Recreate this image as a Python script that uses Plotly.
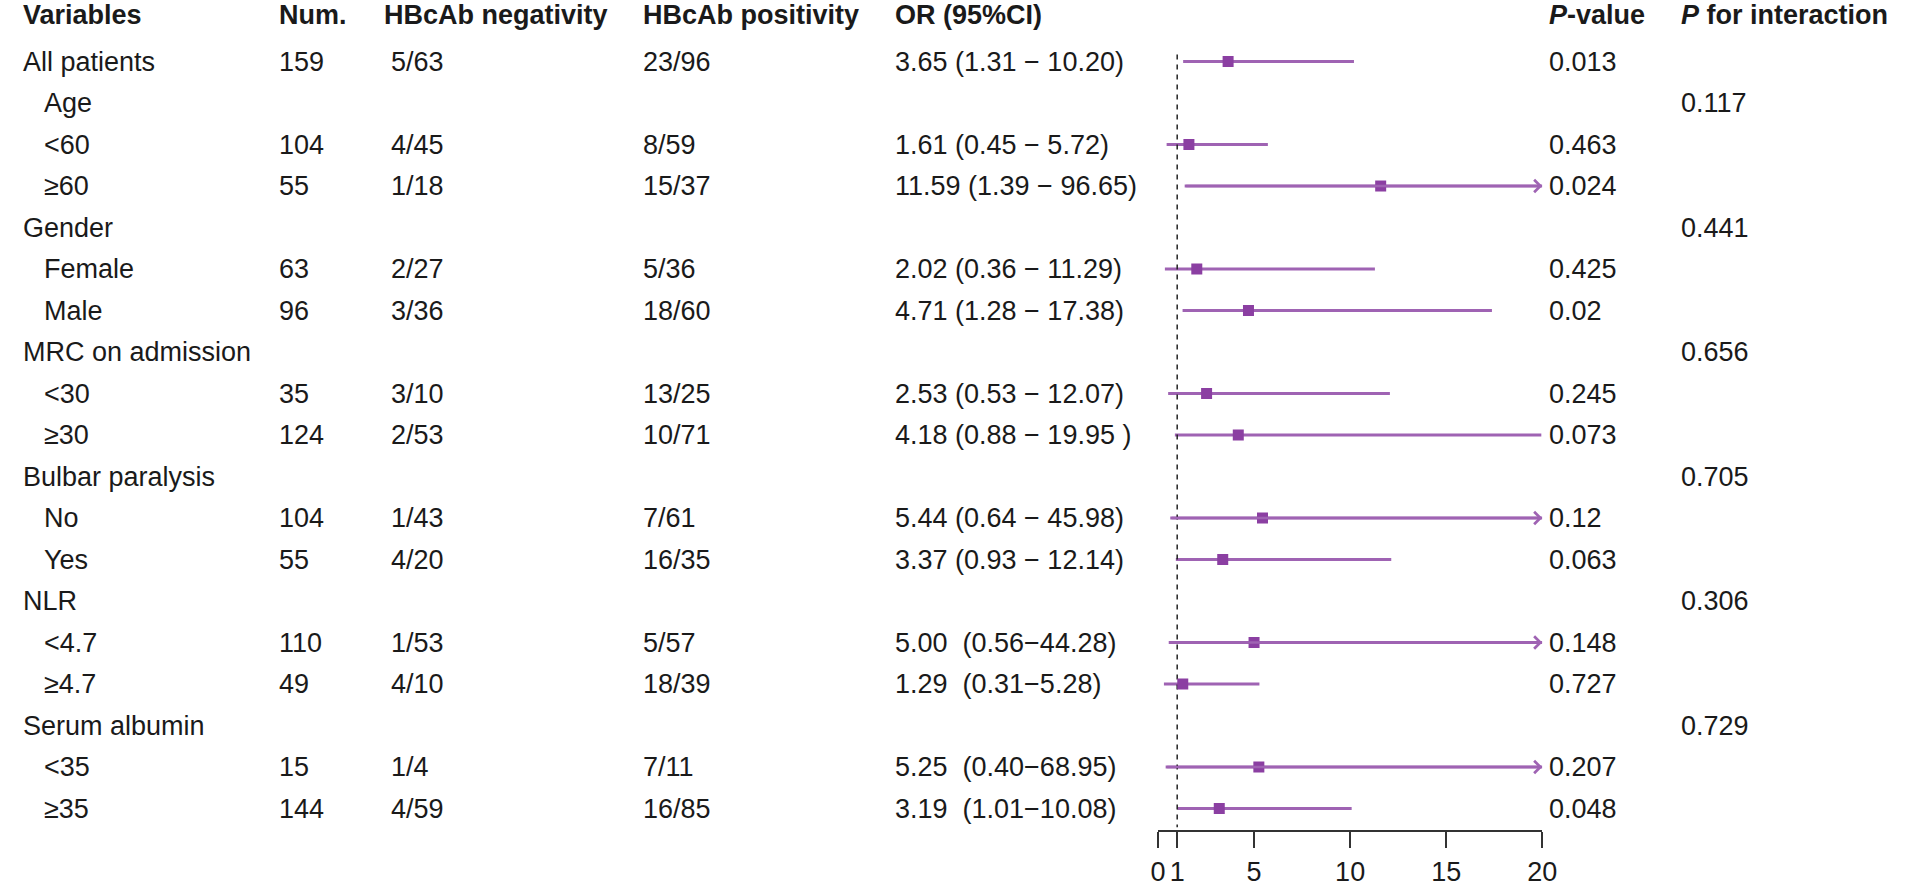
import plotly.graph_objects as go

# ---- data -------------------------------------------------------------
variables = ["All patients", "Age", "<60", "≥60", "Gender", "Female", "Male",
             "MRC on admission", "<30", "≥30", "Bulbar paralysis", "No", "Yes",
             "NLR", "<4.7", "≥4.7", "Serum albumin", "<35", "≥35"]
indent = [0, 1, 1, 1, 0, 1, 1, 0, 1, 1, 0, 1, 1, 0, 1, 1, 0, 1, 1]
num = ["159", "", "104", "55", "", "63", "96", "", "35", "124", "", "104", "55",
       "", "110", "49", "", "15", "144"]
neg = ["5/63", "", "4/45", "1/18", "", "2/27", "3/36", "", "3/10", "2/53", "",
       "1/43", "4/20", "", "1/53", "4/10", "", "1/4", "4/59"]
pos = ["23/96", "", "8/59", "15/37", "", "5/36", "18/60", "", "13/25", "10/71", "",
       "7/61", "16/35", "", "5/57", "18/39", "", "7/11", "16/85"]
or_est = [3.65, None, 1.61, 11.59, None, 2.02, 4.71, None, 2.53, 4.18, None,
          5.44, 3.37, None, 5.00, 1.29, None, 5.25, 3.19]
ci_lo = [1.31, None, 0.45, 1.39, None, 0.36, 1.28, None, 0.53, 0.88, None,
         0.64, 0.93, None, 0.56, 0.31, None, 0.40, 1.01]
ci_hi = [10.20, None, 5.72, 96.65, None, 11.29, 17.38, None, 12.07, 19.95, None,
         45.98, 12.14, None, 44.28, 5.28, None, 68.95, 10.08]
or_text = ["3.65 (1.31 − 10.20)", "", "1.61 (0.45 − 5.72)", "11.59 (1.39 − 96.65)", "",
           "2.02 (0.36 − 11.29)", "4.71 (1.28 − 17.38)", "", "2.53 (0.53 − 12.07)",
           "4.18 (0.88 − 19.95 )", "", "5.44 (0.64 − 45.98)", "3.37 (0.93 − 12.14)", "",
           "5.00  (0.56−44.28)", "1.29  (0.31−5.28)", "", "5.25  (0.40−68.95)",
           "3.19  (1.01−10.08)"]
p_value = ["0.013", "", "0.463", "0.024", "", "0.425", "0.02", "", "0.245", "0.073", "",
           "0.12", "0.063", "", "0.148", "0.727", "", "0.207", "0.048"]
p_inter = ["", "0.117", "", "", "0.441", "", "", "0.656", "", "", "0.705", "", "",
           "0.306", "", "", "0.729", "", ""]
headers = ["Variables", "Num.", "HBcAb negativity", "HBcAb positivity", "OR (95%CI)",
           "<i>P</i>-value", "<i>P</i> for interaction"]
x_ticks = [0, 1, 5, 10, 15, 20]
x_max = 20
null_line = 1

# ---- layout constants (pixels) ---------------------------------------
W, H = 1908, 887
row0, pitch, head_y, axis_y = 62, 41.83, 15, 837
col_x = [13, 272, 379, 641, 896, 1558, 1691]
val_x = [13, 272, 386, 641, 896, 1558, 1691]
plot_x0, plot_x1 = 1164, 1553
FONT = "Liberation Sans, Arial, sans-serif"
FS = 27
TXT = "#1a1a1a"
LINE_C = "#9f63b3"
MARK_C = "#8b3fa2"

n = len(variables)
rows = list(range(n))
y_top = (0 - row0) / pitch
y_bot = (axis_y - row0) / pitch
head_row = (head_y - row0) / pitch

fig = go.Figure()

# CI lines, cut at the axis end
xs, ys = [], []
for i in rows:
    if or_est[i] is None:
        continue
    xs += [ci_lo[i], min(ci_hi[i], x_max), None]
    ys += [i, i, None]
fig.add_trace(go.Scatter(x=xs, y=ys, mode="lines",
                         line=dict(color=LINE_C, width=2.8), hoverinfo="skip"))

# reference line at OR = 1
fig.add_trace(go.Scatter(x=[null_line, null_line], y=[-0.17, n - 1 + 0.45], mode="lines",
                         line=dict(color="#222", width=1.5, dash="5px,5px"),
                         hoverinfo="skip"))

# point estimates
pts = [i for i in rows if or_est[i] is not None]
fig.add_trace(go.Scatter(x=[or_est[i] for i in pts], y=pts, mode="markers",
                         marker=dict(symbol="square", size=11, color=MARK_C)))

annotations = []
# arrows for CIs running past the axis
for i in pts:
    if ci_hi[i] > x_max:
        annotations.append(dict(x=x_max, y=i, xref="x", yref="y",
                                ax=ci_lo[i], ay=i, axref="x", ayref="y",
                                showarrow=True, arrowhead=4, arrowsize=1,
                                arrowwidth=2.4, arrowcolor=LINE_C, text=""))


def txt(x, y, s, bold=False):
    annotations.append(dict(x=x / W, y=y, xref="paper", yref="y",
                            text="<b>" + s + "</b>" if bold else s,
                            showarrow=False, xanchor="left", yanchor="middle",
                            font=dict(family=FONT, size=FS, color=TXT)))


for k, h in enumerate(headers):
    txt(col_x[k], head_row, h, bold=True)

for i in rows:
    txt(val_x[0] + (21 if indent[i] else 0), i, variables[i])
    cols = [num[i], neg[i], pos[i], or_text[i].replace("  ", "\u00a0\u00a0"),
            p_value[i], p_inter[i]]
    for k, s in enumerate(cols, start=1):
        if s:
            txt(val_x[k], i, s)

fig.update_layout(
    width=W, height=H,
    margin=dict(l=0, r=0, t=0, b=0),
    paper_bgcolor="white", plot_bgcolor="white",
    showlegend=False,
    annotations=annotations,
    xaxis=dict(domain=[plot_x0 / W, plot_x1 / W], range=[0, x_max],
               tickvals=x_ticks, ticks="outside", ticklen=16, tickwidth=1.5,
               tickcolor="#333", showline=True, linecolor="#333", linewidth=1.5,
               showgrid=False, zeroline=False,
               tickfont=dict(family=FONT, size=FS, color=TXT)),
    yaxis=dict(domain=[(H - axis_y) / H, 1], range=[y_bot, y_top], visible=False),
)

fig.write_html("out.html", config={"displayModeBar": False},
               post_script="document.body.style.margin='0';")
